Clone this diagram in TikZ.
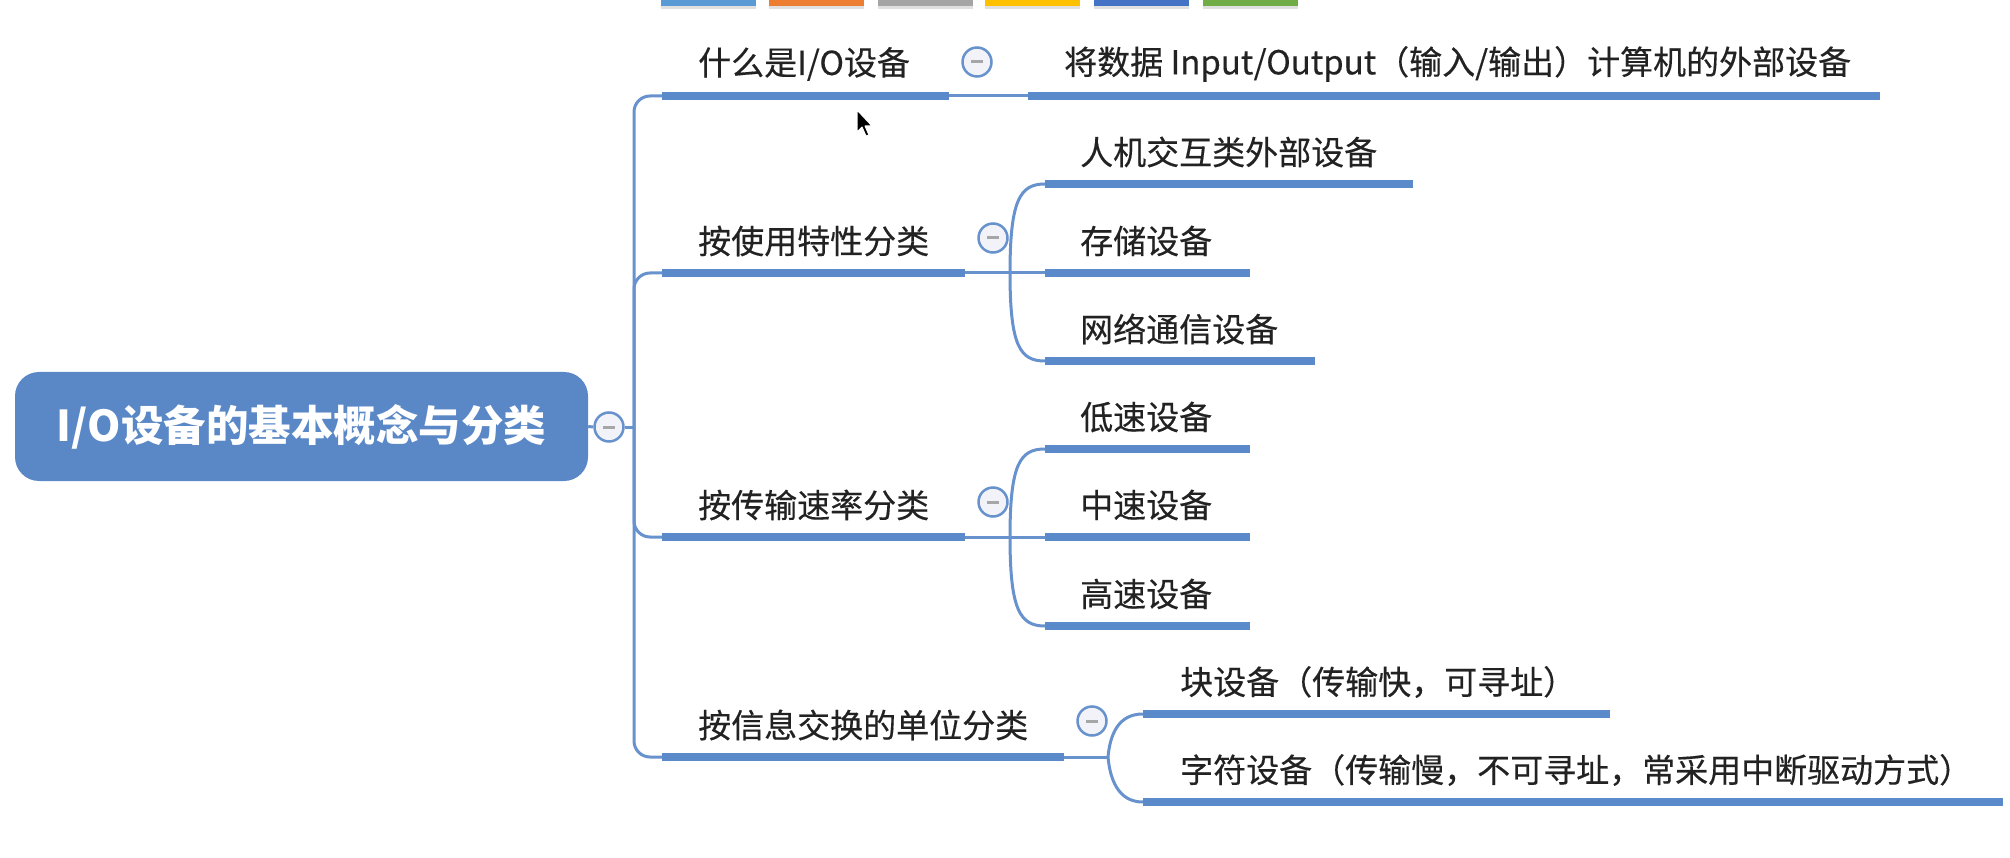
\documentclass[tikz,border=0pt]{standalone}
\usepackage{fontspec}
\newfontfamily\cjk{Noto Sans CJK SC}
\newfontfamily\cjkm[FakeBold=0.35]{Noto Sans CJK SC}
\definecolor{rootblue}{HTML}{5A88C7}
\definecolor{lineblue}{HTML}{5A8ACA}
\definecolor{connblue}{HTML}{6792CE}
\definecolor{foldfill}{HTML}{F2F3F8}
\definecolor{textc}{HTML}{222222}
\definecolor{tabA}{HTML}{5B9BD5}
\definecolor{tabB}{HTML}{ED7D31}
\definecolor{tabC}{HTML}{A5A5A5}
\definecolor{tabD}{HTML}{FFC000}
\definecolor{tabE}{HTML}{4472C4}
\definecolor{tabF}{HTML}{70AD47}
\tikzset{
  uline/.style={rectangle, fill=lineblue, draw=none, inner sep=0pt, minimum height=8pt},
  txt/.style={font=\cjkm\fontsize{33}{39}\selectfont, text=textc, inner sep=0pt, anchor=west},
  conn/.style={draw=connblue, line width=3pt},
  fold/.style={circle, draw=connblue, line width=2.5pt, fill=foldfill, minimum size=29pt, inner sep=0pt,
    path picture={\draw[gray!70, line width=3pt] ([xshift=-6pt]path picture bounding box.center) -- ([xshift=6pt]path picture bounding box.center);}},
  tab/.style={draw=none, inner sep=0pt, minimum height=6pt, minimum width=95pt},
}
\begin{document}
\begin{tikzpicture}[x=1pt,y=-1pt]
\useasboundingbox (0,0) rectangle (2010,858);
\fill[white] (0,0) rectangle (2010,858);
% toolbar tabs
\foreach \cx/\c [count=\i] in {708.5/tabA,816/tabB,925.5/tabC,1032.5/tabD,1141/tabE,1250/tabF}{
  \fill[black!12] (\cx-47.5,0) rectangle (\cx+47.5,9);
  \node[tab, fill=\c] (tab\i) at (\cx,3) {};
}
% root
\node[rectangle, rounded corners=24pt, fill=rootblue, minimum width=573pt, minimum height=109pt,
  text=white, font=\cjk\bfseries\fontsize{42.5}{50}\selectfont] (root) at (301.5,426.5) {I/O设备的基本概念与分类};
\node[fold] (rf) at (609,427) {};
\coordinate (tr) at (634,427);

% branch underlines
\node[uline, minimum width=287pt] (b1) at (805.5,96) {};
\node[uline, minimum width=303pt] (b2) at (813.5,273) {};
\node[uline, minimum width=303pt] (b3) at (813.5,537) {};
\node[uline, minimum width=402pt] (b4) at (863,757) {};
% child underlines
\node[uline, minimum width=852pt] (c11) at (1454,96) {};
\node[uline, minimum width=368pt] (c21) at (1229,184) {};
\node[uline, minimum width=205pt] (c22) at (1147.5,273) {};
\node[uline, minimum width=270pt] (c23) at (1180,361) {};
\node[uline, minimum width=205pt] (c31) at (1147.5,449) {};
\node[uline, minimum width=205pt] (c32) at (1147.5,537) {};
\node[uline, minimum width=205pt] (c33) at (1147.5,626) {};
\node[uline, minimum width=467pt] (c41) at (1376.5,714) {};
\node[uline, minimum width=860pt] (c42) at (1573,802) {};

% texts
\node[txt] (b1t) at (698,64) {什么是I/O设备};
\node[txt] (b2t) at (698,241) {按使用特性分类};
\node[txt] (b3t) at (698,505) {按传输速率分类};
\node[txt] (b4t) at (698,725) {按信息交换的单位分类};
\node[txt] (c11t) at (1064,64) {将数据 Input/Output（输入/输出）计算机的外部设备};
\node[txt] (c21t) at (1080,152) {人机交互类外部设备};
\node[txt] (c22t) at (1080,241) {存储设备};
\node[txt] (c23t) at (1080,329) {网络通信设备};
\node[txt] (c31t) at (1080,417) {低速设备};
\node[txt] (c32t) at (1080,505) {中速设备};
\node[txt] (c33t) at (1080,594) {高速设备};
\node[txt] (c41t) at (1180,682) {块设备（传输快，可寻址）};
\node[txt] (c42t) at (1180,770) {字符设备（传输慢，不可寻址，常采用中断驱动方式）};

% connectors: root to trunk
\draw[conn] (root.east) -- (rf.west);
\draw[conn] (rf.east) -- (tr);
\draw[conn, rounded corners=16pt] (tr) |- (b1.west);
\draw[conn, rounded corners=16pt] (tr) |- (b2.west);
\draw[conn, rounded corners=16pt] (tr) |- (b3.west);
\draw[conn, rounded corners=16pt] (tr) |- (b4.west);

% branch 1
\draw[conn] (b1.east) -- (c11.west);
% branch 2
\coordinate (s2) at (1010,273);
\draw[conn] (b2.east) -- (c22.west);
\draw[conn] (s2) .. controls (1010,200) and (1020,184) .. (c21.west);
\draw[conn] (s2) .. controls (1010,346) and (1020,361) .. (c23.west);
% branch 3
\coordinate (s3) at (1010,537);
\draw[conn] (b3.east) -- (c32.west);
\draw[conn] (s3) .. controls (1010,464) and (1020,449) .. (c31.west);
\draw[conn] (s3) .. controls (1010,610) and (1020,626) .. (c33.west);
% branch 4
\coordinate (s4) at (1108,757);
\draw[conn] (b4.east) -- (s4);
\draw[conn] (s4) .. controls (1110,735) and (1118,714) .. (c41.west);
\draw[conn] (s4) .. controls (1110,779) and (1118,802) .. (c42.west);

% fold markers
\node[fold] (f1) at (977,62) {};
\node[fold] (f2) at (993,238) {};
\node[fold] (f3) at (993,502) {};
\node[fold] (f4) at (1092,721) {};

% mouse cursor
\filldraw[fill=black, draw=white, line width=1pt, line join=round]
  (857,110) -- (857,132) -- (862,127) -- (866,136) -- (869,135) -- (865,126) -- (872,126) -- cycle;
\end{tikzpicture}
\end{document}
